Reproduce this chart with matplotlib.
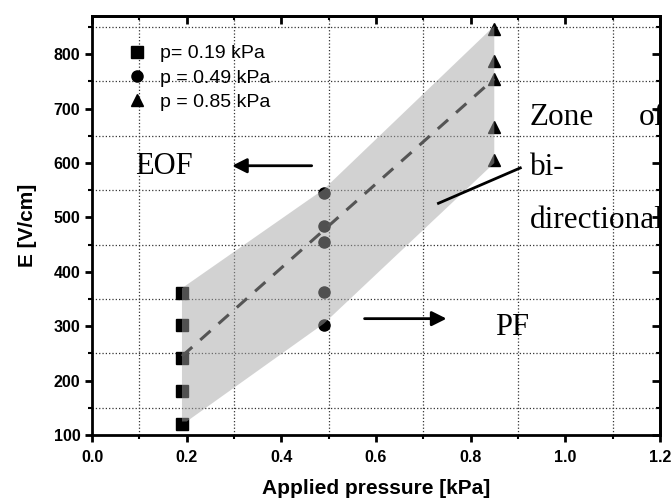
import matplotlib
matplotlib.use("Agg")
import matplotlib.pyplot as plt
from matplotlib.ticker import MultipleLocator
from matplotlib.patches import Polygon

# data
x_sq = [0.19] * 5
y_sq = [121, 181, 242, 302, 362]
x_ci = [0.49] * 5
y_ci = [303, 363, 454, 484, 545]
x_tr = [0.85] * 5
y_tr = [605, 667, 755, 787, 847]
labels = ["p= 0.19 kPa", "p = 0.49 kPa", "p = 0.85 kPa"]
zone_x = [0.19, 0.49, 0.85, 0.85, 0.49, 0.20, 0.19]
zone_y = [370, 552, 852, 600, 305, 125, 125]
fit_x = [0.19, 0.85]
fit_y = [245, 755]

plt.rcParams['font.family'] = ['Liberation Sans', 'DejaVu Sans']
fig = plt.figure(figsize=(6.72, 5.03), dpi=100)
ax = fig.add_axes([0.137, 0.135, 0.845, 0.833])

ax.plot(x_sq, y_sq, 's', color='black', ms=8, label=labels[0], zorder=2)
ax.plot(x_ci, y_ci, 'o', color='black', ms=8, label=labels[1], zorder=2)
ax.plot(x_tr, y_tr, '^', color='black', ms=8, label=labels[2], zorder=2)

poly = Polygon(list(zip(zone_x, zone_y)), closed=True, facecolor='#a5a5a5',
               edgecolor='none', alpha=0.49, zorder=3)
ax.add_patch(poly)
ax.plot(fit_x, fit_y, '--', color='#555555', lw=2.2, dashes=(4.5, 3.5), zorder=4)

ax.set_xlim(0, 1.2)
ax.set_ylim(100, 870)
ax.xaxis.set_major_locator(MultipleLocator(0.2))
ax.xaxis.set_minor_locator(MultipleLocator(0.1))
ax.yaxis.set_major_locator(MultipleLocator(100))
ax.yaxis.set_minor_locator(MultipleLocator(50))
ax.grid(which='minor', linestyle=':', color='#333333', lw=0.9)
ax.tick_params(which='major', direction='out', length=5, width=2, labelsize=11.5)
ax.tick_params(axis='x', which='major', pad=6)
ax.tick_params(which='minor', direction='out', length=3, width=1.5)
ax.set_xticks([0.0, 0.2, 0.4, 0.6, 0.8, 1.0, 1.2])
ax.set_xticklabels(['0.0', '0.2', '0.4', '0.6', '0.8', '1.0', '1.2'])
for lab in ax.get_xticklabels() + ax.get_yticklabels():
    lab.set_fontweight('bold')
for s in ax.spines.values():
    s.set_linewidth(2)

secx = ax.secondary_xaxis('top')
secx.xaxis.set_major_locator(MultipleLocator(0.2))
secx.xaxis.set_minor_locator(MultipleLocator(0.1))
secx.tick_params(which='major', direction='in', length=6, width=2, labeltop=False)
secx.tick_params(which='minor', direction='in', length=3, width=1.5)
secy = ax.secondary_yaxis('right')
secy.yaxis.set_major_locator(MultipleLocator(100))
secy.yaxis.set_minor_locator(MultipleLocator(50))
secy.tick_params(which='major', direction='in', length=6, width=2, labelright=False)
secy.tick_params(which='minor', direction='in', length=3, width=1.5)
for sa in (secx, secy):
    for s in sa.spines.values():
        s.set_linewidth(2)

ax.set_xlabel('Applied pressure [kPa]', fontsize=15, fontweight='bold', labelpad=10)
ax.set_ylabel('E [V/cm]', fontsize=15, fontweight='bold', labelpad=12)

leg = ax.legend(loc='upper left', frameon=False, fontsize=14, handletextpad=0.6,
                handlelength=1.2, borderaxespad=0.0, labelspacing=0.35,
                bbox_to_anchor=(0.045, 0.95))

serif = ['Liberation Serif', 'DejaVu Serif']
ax.text(0.091, 593, 'EOF', family=serif, fontsize=22, va='center', ha='left')
ax.annotate('', xy=(0.29, 595), xytext=(0.47, 595),
            arrowprops=dict(arrowstyle='-|>', color='black', lw=2, mutation_scale=22))
ax.annotate('', xy=(0.755, 314), xytext=(0.57, 314),
            arrowprops=dict(arrowstyle='-|>', color='black', lw=2, mutation_scale=22))
ax.text(0.852, 297, 'PF', family=serif, fontsize=22, va='center', ha='left')
ax.text(0.925, 683, 'Zone', family=serif, fontsize=22.5, va='center', ha='left', clip_on=True)
ax.text(1.155, 683, 'of', family=serif, fontsize=22.5, va='center', ha='left', clip_on=True)
ax.text(0.925, 592, 'bi-', family=serif, fontsize=22.5, va='center', ha='left', clip_on=True)
ax.text(0.925, 495, 'directional', family=serif, fontsize=22.5, va='center', ha='left', clip_on=True)
ax.plot([0.732, 0.905], [526, 591], color='black', lw=2, zorder=5)

fig.savefig('out.png', dpi=100)
